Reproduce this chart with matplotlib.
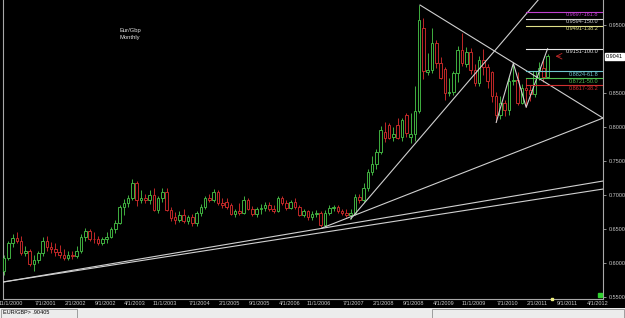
import matplotlib
matplotlib.use("Agg")
import matplotlib.pyplot as plt
import matplotlib.transforms as mtransforms
import numpy as np

# EUR/GBP monthly candles, Nov 2000 .. Jun 2011 (index 0 = Nov 2000)
opens = [
    .5880, .6080,
    .6290, .6370, .6330, .6150, .6180, .5990, .6040, .6150, .6330, .6230, .6200, .6160,
    .6120, .6080, .6120, .6100, .6180, .6380, .6470, .6360, .6350, .6300, .6350, .6390,
    .6500, .6590, .6830, .6880, .6950, .7170, .6930, .6960, .6930, .7000, .6780, .6950,
    .7050, .6780, .6680, .6640, .6710, .6620, .6670, .6590, .6730, .6830, .6950, .6930,
    .7040, .6880, .6900, .6850, .6720, .6770, .6740, .6930, .6790, .6720, .6790, .6810,
    .6860, .6790, .6770, .6950, .6880, .6810, .6900, .6820, .6700, .6760, .6670, .6720,
    .6735, .6560, .6730, .6810, .6830, .6770, .6740, .6710, .6730, .6970, .6930, .7100,
    .7340, .7460, .7630, .7930, .8030, .7860, .8030, .7860, .8170, .7860, .7900, .8230,
    .9450, .8814, .8840, .9230, .8940, .8860, .8500, .8520, .8790, .9130, .8930, .9110,
    .8840, .8650, .8985, .8890, .8810, .8450, .8180, .8360, .8250, .8670, .8690, .8350,
    .8570, .8545, .8490, .8820, .8870, .8730,
]
highs = [
    .6120, .6320,
    .6420, .6460, .6400, .6250, .6200, .6120, .6180, .6380, .6400, .6310, .6290, .6260,
    .6200, .6180, .6180, .6250, .6420, .6520, .6500, .6450, .6400, .6380, .6450, .6530,
    .6640, .6860, .6940, .7000, .7235, .7200, .7070, .7010, .7080, .7100, .6990, .7110,
    .7100, .6830, .6750, .6760, .6790, .6700, .6720, .6760, .6870, .6980, .7010, .7090,
    .7080, .6960, .6950, .6890, .6800, .6880, .6980, .6960, .6840, .6830, .6870, .6900,
    .6900, .6860, .6990, .6990, .6920, .6930, .6950, .6850, .6790, .6780, .6760, .6780,
    .6760, .6780, .6850, .6860, .6850, .6800, .6790, .6800, .7010, .7010, .7170, .7380,
    .7580, .7680, .8010, .8078, .8060, .8000, .8130, .8130, .8200, .8210, .8600, .9790,
    .9600, .9083, .9460, .9280, .9030, .8880, .8720, .8830, .9190, .9380, .9180, .9160,
    .8920, .9040, .9150, .8930, .8830, .8520, .8460, .8400, .8730, .8937, .8810, .8640,
    .8720, .8620, .8830, .8960, .8980, .9080,
]
lows = [
    .5820, .6050,
    .6230, .6300, .6120, .6100, .5960, .5880, .6000, .6110, .6180, .6150, .6100, .6080,
    .6040, .6050, .6060, .6080, .6150, .6330, .6320, .6300, .6260, .6270, .6300, .6370,
    .6440, .6570, .6700, .6820, .6930, .6840, .6880, .6880, .6870, .6760, .6740, .6900,
    .6770, .6620, .6580, .6600, .6590, .6570, .6550, .6550, .6690, .6790, .6900, .6900,
    .6850, .6810, .6800, .6700, .6680, .6700, .6720, .6780, .6690, .6680, .6720, .6760,
    .6760, .6730, .6750, .6860, .6780, .6790, .6790, .6690, .6670, .6640, .6640, .6680,
    .6535, .6540, .6700, .6760, .6740, .6700, .6680, .6648, .6700, .6880, .6900, .7060,
    .7290, .7380, .7600, .7780, .7820, .7800, .7820, .7800, .7860, .7760, .7800, .8200,
    .8700, .8765, .8800, .8870, .8700, .8397, .8450, .8470, .8660, .8900, .8880, .8780,
    .8600, .8600, .8770, .8570, .8370, .8068, .8120, .8160, .8180, .8620, .8330, .8340,
    .8290, .8380, .8440, .8690, .8660, .8720,
]
closes = [
    .6080, .6290,
    .6370, .6330, .6150, .6180, .5990, .6040, .6150, .6330, .6230, .6200, .6160, .6120,
    .6080, .6120, .6100, .6180, .6380, .6470, .6360, .6350, .6300, .6350, .6390, .6500,
    .6590, .6830, .6880, .6950, .7170, .6930, .6960, .6930, .7000, .6780, .6950, .7050,
    .6780, .6660, .6640, .6710, .6620, .6670, .6590, .6730, .6830, .6950, .6930, .7040,
    .6880, .6850, .6830, .6720, .6770, .6740, .6930, .6790, .6720, .6790, .6810, .6860,
    .6790, .6770, .6950, .6880, .6810, .6900, .6820, .6700, .6760, .6670, .6720, .6735,
    .6560, .6730, .6810, .6830, .6770, .6740, .6710, .6730, .6970, .6930, .7100, .7340,
    .7460, .7630, .7950, .7840, .7840, .7900, .7840, .8100, .7910, .7900, .8230, .9570,
    .8820, .8840, .9230, .8940, .8720, .8500, .8520, .8790, .9130, .8940, .9110, .8840,
    .8650, .8980, .8890, .8680, .8450, .8180, .8350, .8250, .8670, .8690, .8350, .8570,
    .8545, .8490, .8820, .8870, .8730, .9041,
]

# x axis: month index of each label
tick_months = [0, 8, 15, 22, 29, 36, 44, 51, 58, 65, 72, 80, 87, 94, 101, 108, 116, 123, 130, 137]
tick_labels = ["11/1/2000", "7/1/2001", "2/1/2002", "9/1/2002", "4/1/2003", "11/1/2003",
               "7/1/2004", "2/1/2005", "9/1/2005", "4/1/2006", "11/1/2006", "7/1/2007",
               "2/1/2008", "9/1/2008", "4/1/2009", "11/1/2009", "7/1/2010", "2/1/2011",
               "9/1/2011", "4/1/2012"]
price_ticks = [0.55, 0.60, 0.65, 0.70, 0.75, 0.80, 0.85, 0.95]
last_price = 0.9041

# trendlines: (month, price) end points
trend_x = [[-0.2, 139.95], [-0.2, 139.95], [74.3, 139.95], [81.0, 124.8], [97.2, 139.95]]
trend_y = [[0.5721, 0.7206], [0.5721, 0.7088], [0.6515, 0.8132], [0.6648, 0.9868], [0.9794, 0.8132]]

# ABCD swing
swing_x = [115, 119, 122, 127]
swing_y = [0.8068, 0.8937, 0.8290, 0.9151]

# fibonacci projection levels
fib_start = 122
fib_values = [0.9697, 0.9594, 0.9491, 0.9151, 0.8824, 0.8721, 0.8617]
fib_pcts = ["161.8", "150.0", "138.2", "100.0", "61.8", "50.0", "38.2"]
fib_colors = ["#c040d0", "#d8d8d8", "#e0e08a", "#e8e8e8", "#70c8d0", "#50c050", "#d03030"]

GREEN = "#40b040"
RED = "#c02828"
LINE = "#d0d0d0"
TXT = "#c8c8c8"
FONT = "Liberation Sans"

fig = plt.figure(figsize=(6.25, 3.18), dpi=100, facecolor="black")
ax = fig.add_axes([3 / 625, 19 / 318, 600 / 625, 299 / 318])
ax.set_facecolor("black")
XMAX = 139.95
ax.set_xlim(-0.23, XMAX)
ax.set_ylim(0.5471, 0.9868)

o = np.array(opens)
h = np.array(highs)
l = np.array(lows)
c = np.array(closes)
idx = np.arange(len(c))
cols = [GREEN if cc >= oo else RED for oo, cc in zip(o, c)]
bottoms = np.minimum(o, c)
heights = np.maximum(np.abs(c - o), 0.0006)

ax.vlines(idx, l, h, colors=cols, lw=0.7, zorder=2)
ax.bar(idx, heights, bottom=bottoms, width=0.6, facecolor="black",
       edgecolor=cols, linewidth=0.7, zorder=3)

for xs, ys in zip(trend_x, trend_y):
    ax.plot(xs, ys, color=LINE, lw=0.8, zorder=4)
ax.plot(swing_x, swing_y, color=LINE, lw=0.8, zorder=4)

ybt = mtransforms.blended_transform_factory(ax.transAxes, ax.transData)
for v, p, col in zip(fib_values, fib_pcts, fib_colors):
    ax.plot([fib_start, XMAX], [v, v], color=col, lw=0.8, zorder=4)
    ax.text(0.992, v - 0.0008, f"{v:.4f}-{p}", transform=ybt, ha="right", va="top",
            color=col, fontsize=4, family=FONT, zorder=5)

# arrow at the last bar
ax.annotate("", xy=(len(c) + 0.2, last_price), xytext=(len(c) + 2.6, last_price),
            arrowprops=dict(arrowstyle="->", color=RED, lw=0.6), zorder=5)

# small markers on the axis
ax.plot([len(c)], [0.5471], "s", color="#f0f080", ms=1.8, clip_on=False, zorder=6)
ax.plot([0.995], [0.012], "s", color="#30d030", ms=3, transform=ax.transAxes,
        clip_on=False, zorder=6)

ax.text(0.212, 0.905, "Eur/Gbp\nMonthly", transform=ax.transAxes, ha="center", va="top",
        color="#e0e0e0", fontsize=4.2, family=FONT, linespacing=1.3)

for side in ["left", "right", "bottom"]:
    ax.spines[side].set_color("#a8a8a8")
    ax.spines[side].set_linewidth(0.8)
ax.spines["top"].set_visible(False)

ax.yaxis.tick_right()
ax.set_yticks(price_ticks)
ax.set_yticklabels([f"{v:.4f}" for v in price_ticks])
ax.tick_params(axis="y", colors="#a8a8a8", labelcolor=TXT, labelsize=4,
               length=2.5, width=0.6, pad=1.5)
ax.set_xticks(tick_months)
ax.set_xticklabels(tick_labels)
ax.tick_params(axis="x", length=0, labelcolor=TXT, labelsize=4, pad=1.5)
shift = mtransforms.ScaledTranslation(7 / 100, 0, fig.dpi_scale_trans)
for lab in ax.get_xticklabels() + ax.get_yticklabels():
    lab.set_family(FONT)
for lab in ax.get_xticklabels():
    lab.set_transform(lab.get_transform() + shift)

ax.text(1.005, last_price, f"{last_price:.4f}", transform=ybt, ha="left", va="center",
        color="black", fontsize=4, family=FONT,
        bbox=dict(boxstyle="square,pad=0.15", facecolor="white", edgecolor="white"))

# status bar
sb = fig.add_axes([0, 0, 1, 10 / 318])
sb.set_facecolor("#ececec")
sb.set_xlim(0, 625)
sb.set_ylim(0, 10)
sb.set_xticks([])
sb.set_yticks([])
for s in sb.spines.values():
    s.set_visible(False)
sb.add_patch(plt.Rectangle((0.5, 0.5), 76, 9, fill=False, edgecolor="#909090", lw=0.6))
sb.add_patch(plt.Rectangle((432, 0.5), 192, 9, fill=False, edgecolor="#909090", lw=0.6))
sb.text(3, 5, "EUR/GBP> .90405", ha="left", va="center", fontsize=4, family=FONT, color="black")

fig.savefig("out.png", dpi=100, facecolor="black")
